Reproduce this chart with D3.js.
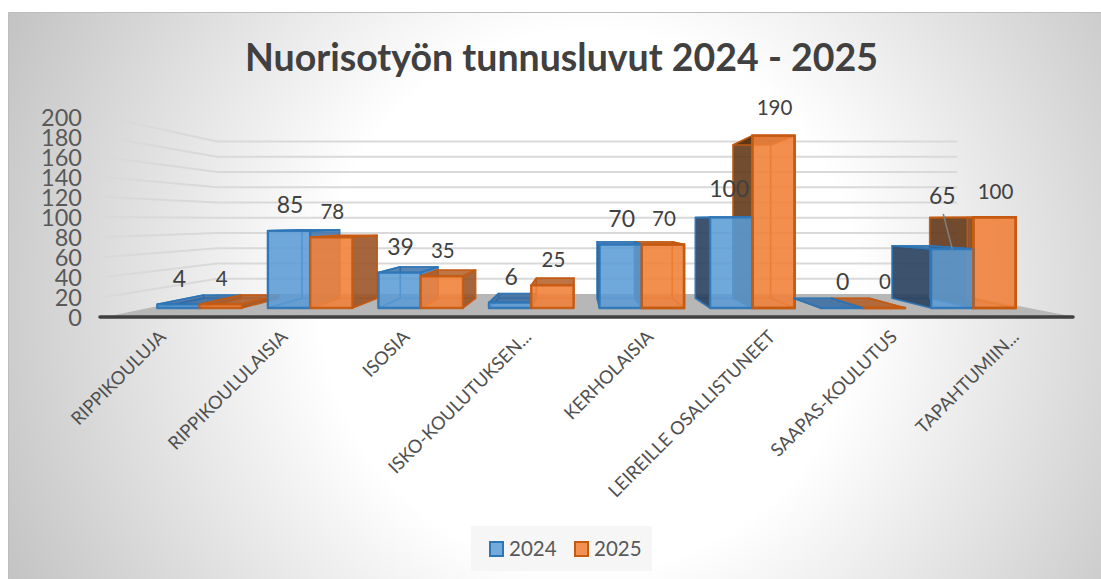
<!DOCTYPE html>
<html>
<head>
<meta charset="utf-8">
<script src="https://cdn.jsdelivr.net/npm/d3@7"></script>
<style>
  html, body { margin: 0; padding: 0; background: #fff; }
  svg { display: block; font-family: Lato, sans-serif; }
</style>
</head>
<body>
<svg width="1101" height="579"></svg>
<script>
var categories = ['RIPPIKOULUJA', 'RIPPIKOULULAISIA', 'ISOSIA', 'ISKO-KOULUTUKSEN...',
                  'KERHOLAISIA', 'LEIREILLE OSALLISTUNEET', 'SAAPAS-KOULUTUS', 'TAPAHTUMIIN...'];
var values2024 = [4, 85, 39, 6, 70, 100, 0, 65];
var values2025 = [4, 78, 35, 25, 70, 190, 0, 100];
var ticks = [0, 20, 40, 60, 80, 100, 120, 140, 160, 180, 200];

var svg = d3.select('svg');
var defs = svg.append('defs');

var bg = defs.append('radialGradient').attr('id', 'bg')
  .attr('gradientUnits', 'userSpaceOnUse')
  .attr('cx', 590).attr('cy', 300).attr('r', 640);
bg.append('stop').attr('offset', '0.42').attr('stop-color', '#ffffff');
bg.append('stop').attr('offset', '1').attr('stop-color', '#c4c4c4');

svg.append('rect').attr('x', 8).attr('y', 13).attr('width', 1093).attr('height', 566)
  .attr('fill', 'url(#bg)');
svg.append('path').attr('d', 'M8.5,579V12.5H1101')
  .attr('fill', 'none').attr('stroke', '#bdbdbd').attr('stroke-width', 1);

// world scales, the z=0 plane is the front of the floor
var x = d3.scaleBand().domain(categories).range([100, 1075]).paddingInner(0.235).paddingOuter(0.1175);
var y = d3.scaleLinear().domain([0, 200]).range([317, 117]);

// perspective, everything shrinks towards the vanishing point
var vx = 577, vy = 220;
var WALL = 0.763, FRONT = 0.907, BACK = 0.807;
function pt(wx, v, s) {
  return [vx + s * (wx - vx), vy + s * (y(v) - vy)];
}
var line = d3.line();
function poly(points) { return line(points) + 'Z'; }

// floor
svg.append('path')
  .attr('d', poly([pt(105, 0, 1), pt(105, 0, WALL), pt(x.range()[1], 0, WALL), pt(x.range()[1], 0, 1)]))
  .attr('fill', '#b7b7b7');

// gridlines, left wall then back wall
svg.append('g').selectAll('path').data(ticks.slice(1)).enter().append('path')
  .attr('d', function(d) {
    return line([pt(105, d, 1), pt(105, d, WALL), pt(x.range()[1], d, WALL)]);
  })
  .attr('fill', 'none')
  .attr('stroke', '#d9d9d9')
  .attr('stroke-width', 2);

// axis line
svg.append('line')
  .attr('x1', 100).attr('x2', 1073)
  .attr('y1', y(0)).attr('y2', y(0))
  .attr('stroke', '#404040').attr('stroke-width', 3.5).attr('stroke-linecap', 'round');

// y axis labels
var yAxis = d3.axisLeft(y).tickValues(ticks).tickSize(0).tickPadding(0);
var yg = svg.append('g').attr('transform', 'translate(82,0)').call(yAxis);
yg.select('.domain').remove();
yg.selectAll('text')
  .attr('font-family', 'Lato, sans-serif')
  .attr('font-size', 23.5)
  .attr('fill', '#595959')
  .attr('dy', '0.36em');

var colors = {
  2024: { line: '#2e75b6', light: 'rgba(91,155,213,0.84)', top: 'rgba(46,100,160,0.75)', side: 'rgba(40,62,90,0.88)', inner: 'rgba(91,155,213,0.22)' },
  2025: { line: '#c55a11', light: 'rgba(240,130,60,0.87)', top: 'rgba(175,90,35,0.8)', side: 'rgba(90,50,20,0.85)', sideR: 'rgba(150,80,35,0.85)', inner: 'rgba(237,125,49,0.22)' }
};

function drawBar(g, cat, v, year, x0, x1) {
  var c = colors[year];
  var fa = pt(x0, v, FRONT), fb = pt(x1, v, FRONT), fc = pt(x1, 0, FRONT), fd = pt(x0, 0, FRONT);
  var ba = pt(x0, v, BACK), bb = pt(x1, v, BACK), bc = pt(x1, 0, BACK), bd = pt(x0, 0, BACK);
  var leftOut = fa[0] > vx;
  var rightOut = fb[0] < vx;
  var topOut = fa[1] > vy;
  var faces = [
    { p: [ba, bb, bc, bd], f: c.inner },
    { p: [bd, bc, fc, fd], f: c.inner },
    { p: [ba, fa, fd, bd], f: leftOut ? c.side : c.inner },
    { p: [bb, fb, fc, bc], f: rightOut ? (c.sideR || c.top) : c.inner },
    { p: [ba, bb, fb, fa], f: topOut ? c.top : c.side },
    { p: [fa, fb, fc, fd], f: c.light }
  ];
  g.selectAll(null).data(faces).enter().append('path')
    .attr('d', function(d) { return poly(d.p); })
    .attr('fill', function(d) { return d.f; })
    .attr('stroke', c.line)
    .attr('stroke-opacity', function(d, i) { return i < 2 ? 0.35 : 0.9; })
    .attr('stroke-width', function(d, i) { return i == 5 ? 2.4 : 1.6; })
    .attr('stroke-linejoin', 'round');
}

var barsG = svg.append('g');
categories.forEach(function(cat, i) {
  var x0 = x(cat), w = x.bandwidth() / 2;
  var blue = [cat, values2024[i], 2024, x0, x0 + w];
  var orange = [cat, values2025[i], 2025, x0 + w, x0 + 2 * w];
  // right of the vanishing point the orange goes first
  var flipped = pt(x0 + w, 0, FRONT)[0] > vx + 50;
  var order = flipped ? [orange, blue] : [blue, orange];
  order.forEach(function(b) {
    drawBar(barsG.append('g'), b[0], b[1], b[2], b[3], b[4]);
  });
  if (flipped) {
    // orange edge stays visible over the blue one
    barsG.append('path')
      .attr('d', poly([pt(x0 + w, values2025[i], FRONT), pt(x0 + 2 * w, values2025[i], FRONT), pt(x0 + 2 * w, 0, FRONT), pt(x0 + w, 0, FRONT)]))
      .attr('fill', 'none').attr('stroke', colors[2025].line).attr('stroke-width', 2.4);
  }
});

// data labels, some were dragged by hand in the original
function labelPos(v, w0, year) {
  var p = pt(w0 + x.bandwidth() / 4, v, FRONT);
  var lift = 26, dx = 1;
  if (year == 2024 && v == 65) { lift = 53; dx = -10; }
  if (year == 2024 && v == 100) { lift = 29; dx = -2; }
  if (v == 190) lift = 28;
  return [p[0] + dx, p[1] - lift];
}
var labelsG = svg.append('g').attr('fill', '#404040').attr('text-anchor', 'middle');
categories.forEach(function(cat, i) {
  var x0 = x(cat), w = x.bandwidth() / 2;
  var a = labelPos(values2024[i], x0, 2024);
  var b = labelPos(values2025[i], x0 + w, 2025);
  if (values2024[i] == 65) {
    var t = pt(x0 + w / 2, 65, FRONT);
    labelsG.append('line').attr('x1', a[0] + 1).attr('y1', a[1] + 18)
      .attr('x2', t[0]).attr('y2', t[1])
      .attr('stroke', '#7f7f7f').attr('stroke-width', 1.5);
  }
  labelsG.append('text').attr('x', a[0]).attr('y', a[1]).attr('dy', '0.36em').attr('font-size', 23).text(values2024[i]);
  labelsG.append('text').attr('x', b[0]).attr('y', b[1]).attr('dy', '0.36em').attr('font-size', 20.5).text(values2025[i]);
});

// category labels
svg.append('g').selectAll('text').data(categories).enter().append('text')
  .attr('transform', function(d) {
    return 'translate(' + (x(d) + x.bandwidth() / 2 + 6) + ',338) rotate(-45)';
  })
  .attr('text-anchor', 'end')
  .attr('font-size', 18.3)
  .attr('fill', '#505050')
  .text(function(d) { return d; });

// title
svg.append('text')
  .attr('x', 561.5).attr('y', 71)
  .attr('text-anchor', 'middle')
  .attr('font-size', 37.5)
  .attr('font-weight', 700)
  .attr('fill', '#404040')
  .text('Nuorisotyön tunnusluvut 2024 - 2025');

// legend
var legend = svg.append('g');
legend.append('rect').attr('x', 471).attr('y', 526).attr('width', 181).attr('height', 45)
  .attr('fill', '#f6f6f6');
[2024, 2025].forEach(function(year, i) {
  var lx = 490 + i * 85;
  legend.append('rect').attr('x', lx).attr('y', 542).attr('width', 13).attr('height', 14)
    .attr('fill', colors[year].light).attr('stroke', colors[year].line).attr('stroke-width', 2);
  legend.append('text').attr('x', lx + 19).attr('y', 556)
    .attr('font-size', 20.5).attr('fill', '#595959').text(year);
});
</script>
</body>
</html>
